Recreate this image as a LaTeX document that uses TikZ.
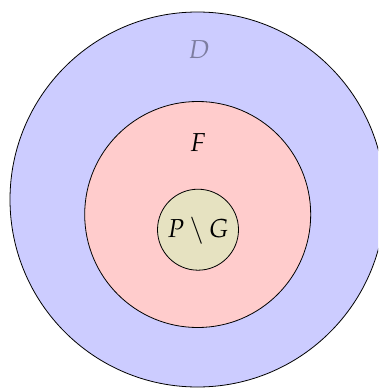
\documentclass[tikz,border=0pt]{standalone}
\usepackage{mathpazo}
\usepackage{graphicx}
\definecolor{outerblue}{RGB}{204,204,255}
\definecolor{midpink}{RGB}{255,204,204}
\definecolor{innerolive}{RGB}{230,226,193}
\definecolor{dgray}{RGB}{125,125,160}
\newcommand{\biglbl}[1]{\scalebox{2.6}{$#1$}}
\begin{document}
\begin{tikzpicture}[x=1pt,y=-1pt,
  ring/.style={draw=black,line width=0.8pt,circle,inner sep=0pt},
  lbl/.style={anchor=base,inner sep=0pt}]
\useasboundingbox (0,0) rectangle (378,388);
\begin{scope}
\clip (0,0) rectangle (378,388);
\node[ring,fill=outerblue,minimum size=375pt] (D) at (197.5,199.5) {};
\end{scope}
\node[ring,fill=midpink,minimum size=226pt] (F) at (197.7,214.5) {};
\node[ring,fill=innerolive,minimum size=81pt] (PG) at (198,229.7) {};
\node[lbl,text=dgray] (Dl) at (199,58.3) {\biglbl{D}};
\node[lbl] (Fl) at (198,151.7) {\biglbl{F}};
\node[lbl] (PGl) at (198,237.3) {\biglbl{P\setminus G}};
\end{tikzpicture}
\end{document}
